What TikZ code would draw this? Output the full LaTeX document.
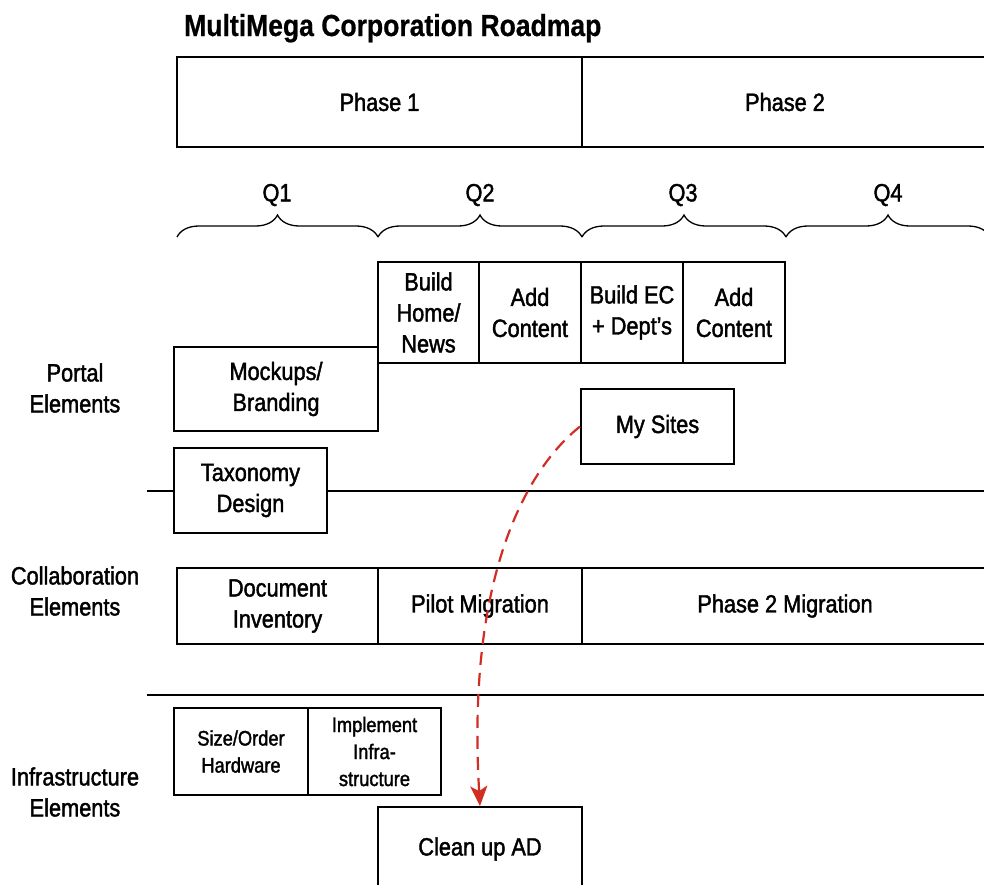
\documentclass[tikz,border=0pt]{standalone}
\usepackage{fontspec}
\setmainfont{Liberation Sans}[FakeStretch=0.87, UprightFeatures={FakeBold=1.6}, BoldFeatures={FakeBold=0.6}]
\usetikzlibrary{decorations.pathreplacing,arrows.meta}
\definecolor{arrowred}{RGB}{210,45,35}
\tikzset{
  txt/.style={font=\fontsize{25}{31}\selectfont, align=center, inner sep=0pt},
  box/.style={draw=black, line width=1.9pt, fill=white, rectangle, align=center, inner sep=0pt,
              font=\fontsize{25}{31}\selectfont},
  smallbox/.style={box, font=\fontsize{21}{27}\selectfont},
  divider/.style={line width=1.9pt},
  qbrace/.style={decorate, decoration={brace, amplitude=22pt, aspect=0.5}, line width=1.3pt},
  dep/.style={draw=arrowred, line width=2.2pt, dash pattern=on 13pt off 8pt,
              -{Stealth[length=20pt,width=17pt,inset=5pt]}}
}
\begin{document}
\begin{tikzpicture}[x=1pt,y=-1pt]
\useasboundingbox (0,0) rectangle (984,884);
\clip (0,0) rectangle (984,884);

% title
\node[anchor=base west, inner sep=0pt, font=\fontsize{30.5}{36}\selectfont\bfseries] (title) at (184,36) {MultiMega Corporation Roadmap};

% phases
\node[box, minimum width=405pt, minimum height=90pt] (ph1) at (379.5,102) {Phase 1};
\node[box, minimum width=406pt, minimum height=90pt] (ph2) at (785,102) {Phase 2};

% quarters
\node[txt] (q1) at (277,195) {Q1};
\node[txt] (q2) at (480,195) {Q2};
\node[txt] (q3) at (683,195) {Q3};
\node[txt] (q4) at (888,195) {Q4};
\coordinate (b0) at (177,237);
\coordinate (b1) at (378,237);
\coordinate (b2) at (582,237);
\coordinate (b3) at (786,237);
\coordinate (b4) at (990,237);
\draw[qbrace] (b0) -- (b1);
\draw[qbrace] (b1) -- (b2);
\draw[qbrace] (b2) -- (b3);
\draw[qbrace] (b3) -- (b4);

% dividers
\coordinate (d1a) at (147,491);
\coordinate (d1b) at (990,491);
\coordinate (d2a) at (147,695);
\coordinate (d2b) at (990,695);
\draw[divider] (d1a) -- (d1b);
\draw[divider] (d2a) -- (d2b);

% row labels
\node[txt] (lportal) at (75,388) {Portal\\Elements};
\node[txt] (lcollab) at (75,591) {Collaboration\\Elements};
\node[txt] (linfra) at (75,792) {Infrastructure\\Elements};

% portal elements
\node[box, minimum width=101pt, minimum height=101pt] (bhome) at (428.5,312.5) {Build\\Home/\\News};
\node[box, minimum width=102pt, minimum height=101pt] (add1) at (530,312.5) {Add\\Content};
\node[box, minimum width=102pt, minimum height=101pt] (bec) at (632,312.5) {Build EC\\+ Dept’s};
\node[box, minimum width=102pt, minimum height=101pt] (add2) at (734,312.5) {Add\\Content};
\node[box, minimum width=204pt, minimum height=84pt] (mock) at (276,389) {Mockups/\\Branding};
\node[box, minimum width=153pt, minimum height=75pt] (mysites) at (657.5,426.5) {My Sites};
\node[box, minimum width=153pt, minimum height=85pt] (taxo) at (250.5,490.5) {Taxonomy\\Design};

% collaboration elements
\node[box, minimum width=201pt, minimum height=76pt] (docinv) at (277.5,606) {Document\\Inventory};
\node[box, minimum width=204pt, minimum height=76pt] (pilot) at (480,606) {Pilot Migration};
\node[box, minimum width=406pt, minimum height=76pt] (ph2mig) at (785,606) {Phase 2 Migration};

% infrastructure elements
\node[smallbox, minimum width=134pt, minimum height=87pt] (size) at (241,751.5) {Size/Order\\Hardware};
\node[smallbox, minimum width=133pt, minimum height=87pt] (impl) at (374.5,751.5) {Implement\\Infra-\\structure};
\node[box, minimum width=204pt, minimum height=84pt] (clean) at (480,849) {Clean up AD};

% dependency arrow
\draw[dep] (mysites.west) .. controls (530,466) and (466,570) .. (clean.north);
\end{tikzpicture}
\end{document}
